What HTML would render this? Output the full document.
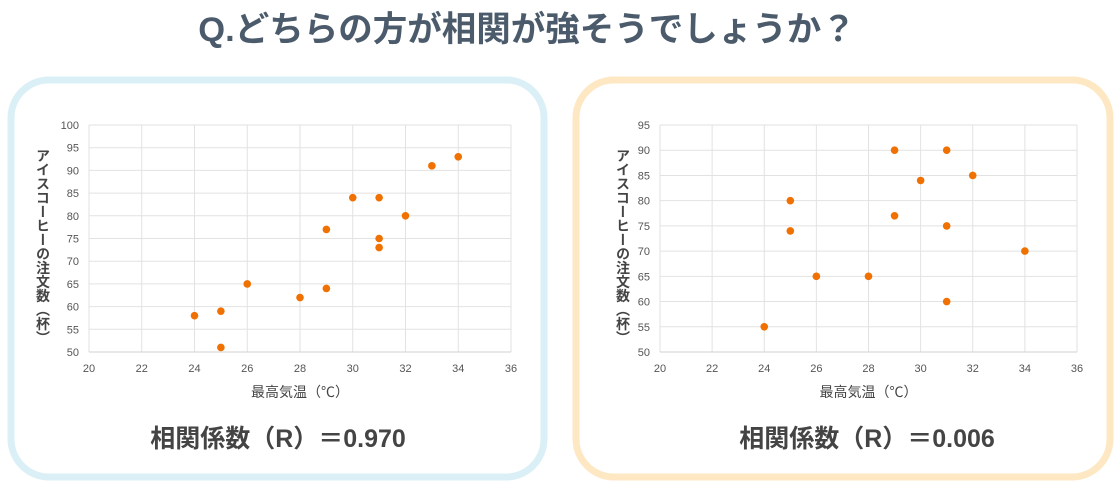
<!DOCTYPE html>
<html><head><meta charset="utf-8"><style>
html,body{margin:0;padding:0;background:#fff;}
svg{display:block;font-family:"Liberation Sans","Noto Sans CJK JP",sans-serif;}
</style></head><body>
<svg width="1120" height="491" viewBox="0 0 1120 491" xmlns="http://www.w3.org/2000/svg">
<text x="527" y="41" text-anchor="middle" font-size="34.5" font-weight="bold" fill="#4b5b6c">Q.どちらの方が相関が強そうでしょうか？</text>
<rect x="11" y="80" width="533" height="397" rx="38" fill="#fff" stroke="#daf0f6" stroke-width="7"/>
<rect x="576" y="80" width="534" height="397" rx="38" fill="#fff" stroke="#fde8c3" stroke-width="7"/>
<g id="L"></g><g id="R"></g>
</svg>
<script>
function chart(g,x0,x1,y0,y1,ymin,ymax,step,pts,ylx,cx,rtxt){
 let s="";
 const X=v=>x0+(v-20)/16*(x1-x0), Y=v=>y1-(v-ymin)/(ymax-ymin)*(y1-y0);
 for(let v=20;v<=36;v+=2){s+=`<line x1="${X(v)}" x2="${X(v)}" y1="${y0}" y2="${y1}" stroke="#e2e2e2" stroke-width="1"/>`;
  s+=`<text x="${X(v)}" y="${y1+20}" text-anchor="middle" font-size="11" fill="#555">${v}</text>`;}
 for(let v=ymin;v<=ymax;v+=step){s+=`<line x1="${x0}" x2="${x1}" y1="${Y(v)}" y2="${Y(v)}" stroke="#e2e2e2" stroke-width="1"/>`;
  s+=`<text x="${x0-10}" y="${Y(v)+4}" text-anchor="end" font-size="11" fill="#555">${v}</text>`;}
 s+=`<line x1="${x0}" x2="${x1}" y1="${y1}" y2="${y1}" stroke="#d0d0d0"/>`;
 for(const p of pts)s+=`<circle cx="${X(p[0])}" cy="${Y(p[1])}" r="3.8" fill="#f07000"/>`;
 s+=`<text x="${(x0+x1)/2}" y="${y1+45}" text-anchor="middle" font-size="14" fill="#444">最高気温（℃）</text>`;
 s+=`<text x="${ylx}" y="${(y0+y1)/2+8}" text-anchor="middle" font-size="14" font-weight="bold" fill="#444" style="writing-mode:vertical-rl">アイスコーヒーの注文数（杯）</text>`;
 s+=`<text x="${cx}" y="447" text-anchor="middle" font-size="25" font-weight="bold" fill="#444">${rtxt}</text>`;
 document.getElementById(g).innerHTML=s;
}
chart("L",89,511,125,352,50,100,5,[[24,58],[25,59],[25,51],[26,65],[28,62],[29,64],[29,77],[30,84],[31,84],[31,75],[31,73],[32,80],[33,91],[34,93]],43,278,"相関係数（R）＝0.970");
chart("R",660,1077,125,352,50,95,5,[[24,55],[25,80],[25,74],[26,65],[28,65],[29,90],[29,77],[30,84],[31,90],[31,75],[31,60],[32,85],[34,70]],623,867,"相関係数（R）＝0.006");
</script>
</body></html>
